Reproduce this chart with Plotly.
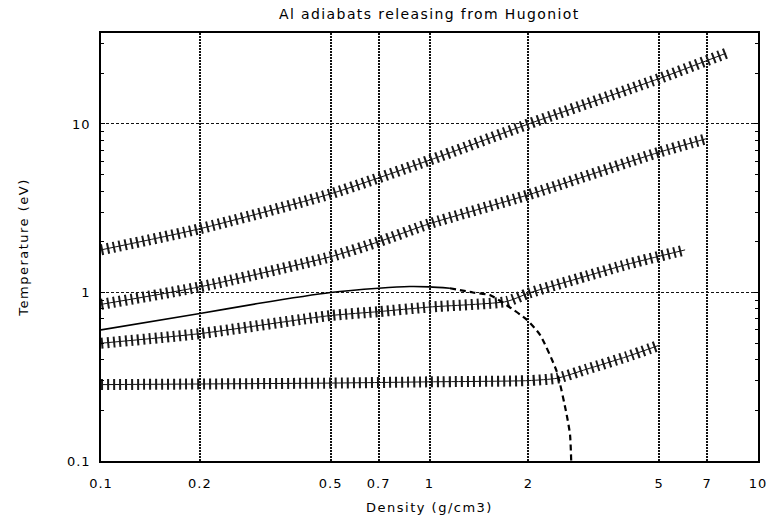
import plotly.graph_objects as go

# Adiabats (density g/cm3, temperature eV)
a1_rho = [0.1, 0.2, 0.5, 1.0, 2.0, 5.0, 8.0]
a1_T = [1.79, 2.39, 3.85, 6.1, 10.0, 18.6, 26.3]

a2_rho = [0.1, 0.2, 0.5, 0.7, 1.0, 2.0, 5.0, 7.0]
a2_T = [0.85, 1.08, 1.63, 2.0, 2.56, 3.8, 6.8, 8.2]

a3_rho = [0.1, 0.2, 0.5, 0.7, 1.0, 1.72, 2.0, 3.0, 4.0, 6.0]
a3_T = [0.50, 0.57, 0.73, 0.77, 0.82, 0.885, 0.99, 1.25, 1.47, 1.79]

a4_rho = [0.1, 0.5, 1.0, 2.0, 2.45, 3.0, 4.0, 5.0]
a4_T = [0.284, 0.29, 0.295, 0.30, 0.31, 0.35, 0.417, 0.486]

# Vaporisation boundary: solid part and dashed part
dome_solid_rho = [0.1, 0.2, 0.3, 0.5, 0.7, 0.87, 1.0, 1.154]
dome_solid_T = [0.60, 0.75, 0.86, 1.0, 1.06, 1.085, 1.08, 1.06]
dome_dash_rho = [1.154, 1.356, 1.528, 1.718, 1.977, 2.170, 2.439, 2.616, 2.678, 2.70]
dome_dash_T = [1.06, 1.0, 0.965, 0.84, 0.69, 0.56, 0.34, 0.188, 0.143, 0.1]

x_ticks = [0.1, 0.2, 0.5, 0.7, 1, 2, 5, 7, 10]
x_labels = ["0.1", "0.2", "0.5", "0.7", "1", "2", "5", "7", "10"]
y_ticks = [0.1, 1, 10]
y_labels = ["0.1", "1", "10"]
y_minor = [0.2, 0.3, 0.4, 0.5, 0.6, 0.7, 0.8, 0.9, 2, 3, 4, 5, 6, 7, 8, 9, 20, 30]


def sp(text, ls=1.5):
    return '<span style="letter-spacing:%spx">%s</span>' % (ls, text)


fig = go.Figure()

for rho, T in [(a1_rho, a1_T), (a2_rho, a2_T), (a3_rho, a3_T), (a4_rho, a4_T)]:
    fig.add_trace(go.Scatter(x=rho, y=T, mode="lines",
                             line=dict(color="#111", width=1, shape="spline", smoothing=0.6),
                             showlegend=False, hoverinfo="skip"))
    fig.add_trace(go.Scatter(x=rho, y=T, mode="lines",
                             line=dict(color="#1a1a1a", width=11, dash="2px,4px", shape="spline", smoothing=0.6),
                             showlegend=False))

fig.add_trace(go.Scatter(x=dome_solid_rho, y=dome_solid_T, mode="lines",
                         line=dict(color="#000", width=1.6, shape="spline", smoothing=0.8),
                         showlegend=False))
fig.add_trace(go.Scatter(x=dome_dash_rho, y=dome_dash_T, mode="lines",
                         line=dict(color="#000", width=2.2, dash="6px,4px", shape="spline", smoothing=0.6),
                         showlegend=False))

font = "DejaVu Sans, Verdana, sans-serif"
fig.update_layout(
    width=775, height=515,
    margin=dict(l=101, r=17, t=33, b=54, autoexpand=False),
    paper_bgcolor="white", plot_bgcolor="white",
    font=dict(family=font, size=13, color="#000"),
    title=dict(text=sp("Al adiabats releasing from Hugoniot", 1.4), x=0.554, xanchor="center",
               y=0.973, yanchor="middle", font=dict(size=14, family=font, color="#000")),
    showlegend=False,
)
fig.update_xaxes(
    type="log", range=[-1, 1], tickvals=x_ticks, ticktext=[sp(t, 1) for t in x_labels],
    showgrid=True, gridcolor="#111", gridwidth=1.5, griddash="2px,1px",
    showline=True, linecolor="#000", linewidth=1.6, mirror=True, automargin=False,
    ticks="", ticklabelstandoff=10, zeroline=False,
    title=dict(text=sp("Density (g/cm3)", 1.5), standoff=14, font=dict(size=13)),
)
fig.update_yaxes(
    type="log", range=[-1, 1.54], tickvals=y_ticks, ticktext=[sp(t, 1) for t in y_labels],
    showgrid=True, gridcolor="#111", gridwidth=1.1, griddash="3px,2px",
    showline=True, linecolor="#000", linewidth=1.6, mirror="ticks", automargin=False,
    ticks="inside", ticklen=4, tickcolor="#000", ticklabelstandoff=6, zeroline=False,
    minor=dict(tickmode="array", tickvals=y_minor, ticks="inside", ticklen=3,
               tickcolor="#000", showgrid=False),
    title=dict(text=sp("Temperature (eV)", 1.5), standoff=35, font=dict(size=13)),
)

fig.write_html("out.html")
